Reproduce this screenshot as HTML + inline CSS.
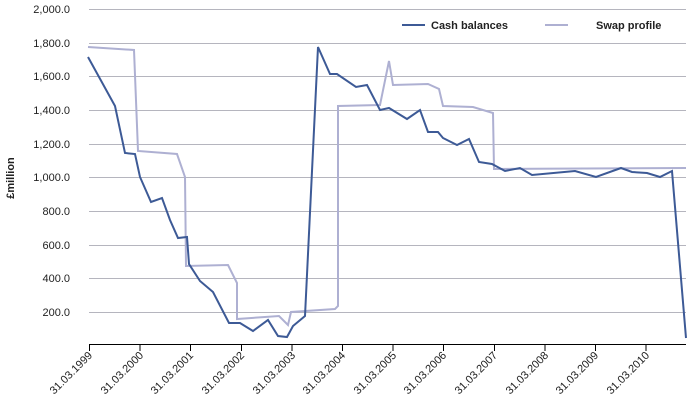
<!DOCTYPE html><html><head><style>body{margin:0;background:#fff}</style></head><body>
<svg width="690" height="406" xmlns="http://www.w3.org/2000/svg" font-family="Liberation Sans, sans-serif" font-size="11" fill="#222">
<g stroke="#b5b5be" stroke-width="1">
<line x1="89" x2="686" y1="9.5" y2="9.5"/><line x1="89" x2="686" y1="43.5" y2="43.5"/><line x1="89" x2="686" y1="76.5" y2="76.5"/><line x1="89" x2="686" y1="110.5" y2="110.5"/><line x1="89" x2="686" y1="144.5" y2="144.5"/><line x1="89" x2="686" y1="177.5" y2="177.5"/><line x1="89" x2="686" y1="211.5" y2="211.5"/><line x1="89" x2="686" y1="245.5" y2="245.5"/><line x1="89" x2="686" y1="278.5" y2="278.5"/><line x1="89" x2="686" y1="312.5" y2="312.5"/>
</g>
<g text-anchor="end"><text x="70" y="13">2,000.0</text><text x="70" y="47">1,800.0</text><text x="70" y="80">1,600.0</text><text x="70" y="114">1,400.0</text><text x="70" y="148">1,200.0</text><text x="70" y="181">1,000.0</text><text x="70" y="215">800.0</text><text x="70" y="249">600.0</text><text x="70" y="282">400.0</text><text x="70" y="316">200.0</text></g>
<text transform="translate(14,178) rotate(-90)" text-anchor="middle" font-weight="bold">£million</text>
<line x1="89" x2="686" y1="344.5" y2="344.5" stroke="#000"/>
<g stroke="#000"><line x1="89.5" x2="89.5" y1="345" y2="351"/><line x1="140" x2="140" y1="345" y2="351"/><line x1="190.5" x2="190.5" y1="345" y2="351"/><line x1="241.5" x2="241.5" y1="345" y2="351"/><line x1="292" x2="292" y1="345" y2="351"/><line x1="342.5" x2="342.5" y1="345" y2="351"/><line x1="393" x2="393" y1="345" y2="351"/><line x1="443.5" x2="443.5" y1="345" y2="351"/><line x1="494.5" x2="494.5" y1="345" y2="351"/><line x1="545" x2="545" y1="345" y2="351"/><line x1="595.5" x2="595.5" y1="345" y2="351"/><line x1="646" x2="646" y1="345" y2="351"/></g>
<g text-anchor="end" font-size="11">
<text transform="translate(93,356) rotate(-45)">31.03.1999</text><text transform="translate(144,356) rotate(-45)">31.03.2000</text><text transform="translate(194,356) rotate(-45)">31.03.2001</text><text transform="translate(245,356) rotate(-45)">31.03.2002</text><text transform="translate(296,356) rotate(-45)">31.03.2003</text><text transform="translate(346,356) rotate(-45)">31.03.2004</text><text transform="translate(397,356) rotate(-45)">31.03.2005</text><text transform="translate(447,356) rotate(-45)">31.03.2006</text><text transform="translate(498,356) rotate(-45)">31.03.2007</text><text transform="translate(549,356) rotate(-45)">31.03.2008</text><text transform="translate(599,356) rotate(-45)">31.03.2009</text><text transform="translate(650,356) rotate(-45)">31.03.2010</text></g>
<polyline fill="none" stroke="#aeb0d2" stroke-width="2" points="88,47 134,50 138,151 177,154 185,177 186,266 228,265 237,283 237,319 279,316 288,325 291,312 335,309 338,306 338,106 380,105 389,61 393,85 428,84 439,89 443,106 473,107 493,113 494,169 686,168"/>
<polyline fill="none" stroke="#3d5a96" stroke-width="2" points="88,57 115,106 125,153 135,154 140,177 151,202 162,198 170,220 178,238 187,237 189,264 200,281 213,292 229,323 240,323 253,331 268,320 278,336 287,337 293,326 305,316 318,47 330,74 337,74 356,87 367,85 380,110 389,108 407,119 420,110 428,132 438,132 443,138 457,145 469,139 479,162 492,164 505,171 520,168 532,175 575,171 596,177 621,168 632,172 647,173 660,177 672,171 686,338"/>
<line x1="402" x2="425" y1="25" y2="25" stroke="#3d5a96" stroke-width="2"/><text x="431" y="29" font-weight="bold">Cash balances</text>
<line x1="545" x2="568" y1="25" y2="25" stroke="#aeb0d2" stroke-width="2"/><text x="596" y="29" font-weight="bold">Swap profile</text>
</svg></body></html>
